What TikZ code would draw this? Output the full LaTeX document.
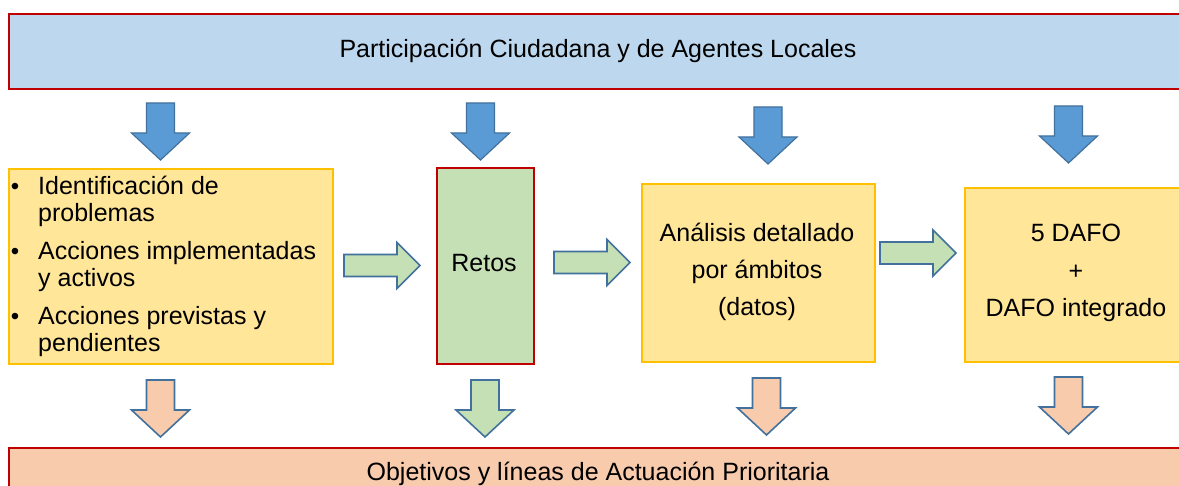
\documentclass[tikz,border=0pt]{standalone}
\usepackage{fontspec}
\setmainfont{Liberation Sans}
\definecolor{topblue}{HTML}{BDD7EE}
\definecolor{redline}{HTML}{C00000}
\definecolor{boxyellow}{HTML}{FFE699}
\definecolor{yellowline}{HTML}{FFC000}
\definecolor{boxgreen}{HTML}{C5E0B4}
\definecolor{boxorange}{HTML}{F8CBAD}
\definecolor{arrblue}{HTML}{5B9BD5}
\definecolor{arrline}{HTML}{41719C}
\tikzset{
  txt/.style={font=\fontsize{25}{30}\selectfont, inner sep=0pt, text=black},
  bul/.style={font=\fontsize{24}{28}\selectfont, inner sep=0pt, text=black},
  redbox/.style={draw=redline, line width=2pt, rectangle, inner sep=0pt, anchor=north west},
  yelbox/.style={draw=yellowline, fill=boxyellow, line width=2pt, rectangle, inner sep=0pt, anchor=north west},
  darr/.pic={\path[pic actions] (-14,0) -- (14,0) -- (14,30) -- (29,30) -- (0,57) -- (-29,30) -- (-14,30) -- cycle;},
  rarr/.pic={\path[pic actions] (0,-11) -- (53,-11) -- (53,-23) -- (76,0) -- (53,23) -- (53,11) -- (0,11) -- cycle;},
  bluearr/.style={fill=arrblue, draw=arrline, line width=1.2pt, line join=miter},
  orarr/.style={fill=boxorange, draw=arrline, line width=1.6pt, line join=miter},
  grarr/.style={fill=boxgreen, draw=arrline, line width=1.6pt, line join=miter}
}
\begin{document}
\begin{tikzpicture}[x=1pt,y=-1pt]
\useasboundingbox (0,0) rectangle (1179,486);
\clip (0,0) rectangle (1179,486);
\fill[white] (0,0) rectangle (1179,486);

% boxes
\node[redbox, fill=topblue, minimum width=1185pt, minimum height=75pt] (top) at (8,13) {};
\node[yelbox, minimum width=324pt, minimum height=195pt] (b1) at (8,168) {};
\node[redbox, fill=boxgreen, minimum width=97pt, minimum height=196pt] (retos) at (436,167) {};
\node[yelbox, minimum width=233pt, minimum height=178pt] (anal) at (641,183) {};
\node[yelbox, minimum width=230pt, minimum height=174pt] (dafo) at (964,187) {};
\node[redbox, fill=boxorange, minimum width=1185pt, minimum height=60pt] (bottom) at (8,447) {};

% texts
\node[txt, anchor=base] (toptext) at (598,58) {Participación Ciudadana y de Agentes Locales};
\node[txt, anchor=base] (bottomtext) at (598,480) {Objetivos y líneas de Actuación Prioritaria};

\node[bul, anchor=base] (bu1) at (15,195) {•};
\node[bul, anchor=base] (bu2) at (15,260) {•};
\node[bul, anchor=base] (bu3) at (15,325) {•};
\node[txt, anchor=base west] (l1) at (38,195) {Identificación de};
\node[txt, anchor=base west] (l2) at (38,222) {problemas};
\node[txt, anchor=base west] (l3) at (38,260) {Acciones implementadas};
\node[txt, anchor=base west] (l4) at (38,287) {y activos};
\node[txt, anchor=base west] (l5) at (38,325) {Acciones previstas y};
\node[txt, anchor=base west] (l6) at (38,352) {pendientes};

\node[txt, anchor=base] (retostext) at (484,272) {Retos};

\node[txt, anchor=base] (a1) at (757,242) {Análisis detallado};
\node[txt, anchor=base] (a2) at (757,279) {por ámbitos};
\node[txt, anchor=base] (a3) at (757,316) {(datos)};

\node[txt, anchor=base] (d1) at (1076,242) {5 DAFO};
\node[txt, anchor=base] (d2) at (1076,280) {+};
\node[txt, anchor=base] (d3) at (1076,317) {DAFO integrado};

% blue down arrows
\pic[bluearr] (t1) at (160.5,103) {darr};
\pic[bluearr] (t2) at (480.5,103) {darr};
\pic[bluearr] (t3) at (768,107) {darr};
\pic[bluearr] (t4) at (1068.5,106) {darr};

% right arrows
\pic[grarr] (r1) at (344,265.5) {rarr};
\pic[grarr] (r2) at (554,262.5) {rarr};
\pic[grarr] (r3) at (880,253) {rarr};

% bottom arrows
\pic[orarr] (o1) at (160.5,380) {darr};
\pic[grarr] (o2) at (485,380) {darr};
\pic[orarr] (o3) at (766.5,378) {darr};
\pic[orarr] (o4) at (1068.5,377) {darr};
\end{tikzpicture}
\end{document}
